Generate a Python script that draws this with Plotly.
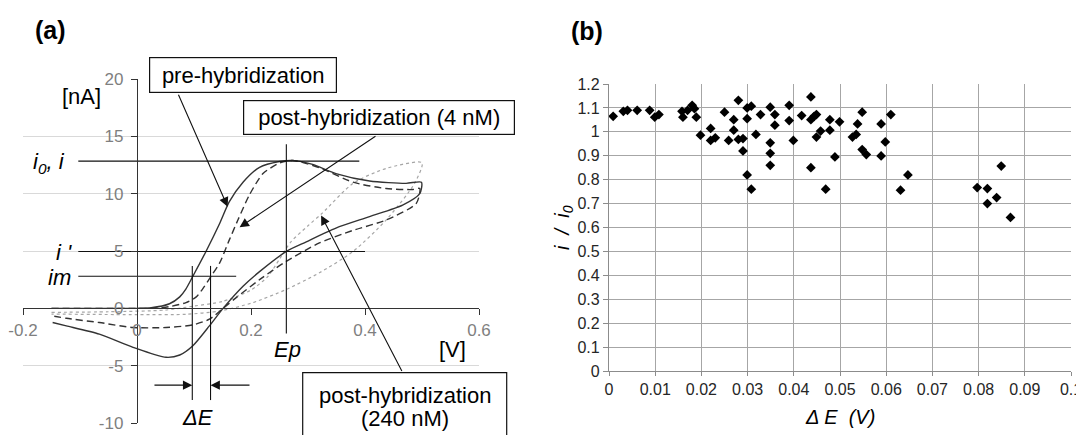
import plotly.graph_objects as go

FONT = "Liberation Sans, Arial, sans-serif"

# ---------------- Panel (a): cyclic voltammograms (V, nA) ----------------
pre_v = [-0.15, -0.10, -0.05, 0.00, 0.025, 0.057, 0.075, 0.086, 0.098, 0.121, 0.145, 0.162, 0.186, 0.215,
         0.25, 0.273, 0.308, 0.349, 0.408, 0.472, 0.499,
         0.496, 0.466, 0.408, 0.349, 0.297, 0.262, 0.215, 0.186, 0.151, 0.127, 0.098, 0.075, 0.051,
         -0.007, -0.066, -0.124, -0.148]
pre_i = [0, 0, 0, 0, 0.05, 0.4, 1.0, 1.7, 2.8, 4.96, 7.4, 9.3, 11.0, 12.3,
         12.8, 12.9, 12.55, 11.75, 11.1, 10.9, 11.0,
         10.0, 9.0, 8.0, 7.0, 5.8, 4.96, 3.2, 1.93, 0.0, -1.53, -3.26, -4.07, -4.27,
         -3.4, -2.25, -1.53, -1.24]

post4_v = [-0.15, -0.10, -0.05, 0.0, 0.03, 0.057, 0.086, 0.104, 0.118, 0.130, 0.145, 0.162, 0.177, 0.197,
           0.221, 0.25, 0.273, 0.32, 0.379, 0.437, 0.484, 0.496,
           0.49, 0.437, 0.379, 0.32, 0.262, 0.215, 0.174, 0.151, 0.127, 0.097, 0.051, -0.007,
           -0.066, -0.124, -0.148]
post4_i = [0, 0, 0, 0, 0, 0.15, 0.5, 1.0, 1.9, 2.8, 3.96, 5.97, 7.7, 9.87,
           11.75, 12.67, 12.9, 12.27, 11.0, 10.45, 10.36, 10.45,
           9.15, 7.7, 6.8, 5.7, 4.1, 2.5, 0.93, 0.0, -0.95, -1.45, -1.67, -1.67,
           -1.24, -0.87, -0.66]

post240_v = [-0.15, -0.05, 0.05, 0.10, 0.15, 0.20, 0.23, 0.25, 0.27, 0.30, 0.325, 0.379, 0.437, 0.50,
             0.487, 0.437, 0.379, 0.32, 0.262, 0.203, 0.145, 0.086, 0.0, -0.15]
post240_i = [-0.35, -0.3, -0.15, 0.2, 0.6, 1.6, 2.8, 4.3, 5.8, 7.2, 8.3, 10.9, 12.2, 12.7,
             10.9, 7.7, 4.96, 3.1, 1.65, 0.49, -0.23, -0.52, -0.55, -0.5]

# characteristic values marked on panel (a)
E_p = 0.262
i_0 = 12.84
i_prime = 4.96
i_m = 2.8
E_left = 0.097
E_right = 0.129

a_xticks = [-0.2, 0, 0.2, 0.4, 0.6]
a_xlabels = ["-0.2", "0", "0.2", "0.4", "0.6"]
a_yticks = [-10, -5, 0, 5, 10, 15, 20]
a_ylabels = ["-10", "-5", "0", "5", "10", "15", "20"]

# ---------------- Panel (b): i/i0 vs delta E ----------------
delta_E = [0.0009, 0.0031, 0.004, 0.0061, 0.0088, 0.0099, 0.0108, 0.0158, 0.016, 0.017, 0.018, 0.0185,
           0.0189, 0.0198, 0.022, 0.022, 0.023, 0.025, 0.0259, 0.027, 0.027, 0.028, 0.028, 0.029,
           0.029, 0.0299, 0.0299, 0.0308, 0.0299, 0.0308, 0.0318, 0.0328,
           0.0349, 0.0359, 0.0359, 0.0349, 0.0349, 0.0349, 0.039, 0.039, 0.0399, 0.0417, 0.0437,
           0.0437, 0.0444, 0.0449, 0.0437, 0.0458, 0.0449, 0.0478, 0.0478, 0.0469, 0.0489, 0.0499,
           0.0527, 0.0535, 0.0538, 0.0548, 0.0548, 0.0557, 0.0589, 0.0589, 0.0598, 0.061, 0.0647,
           0.0631,
           0.0849, 0.0797, 0.0819, 0.0839, 0.0819, 0.0869]
ratio = [1.065, 1.086, 1.09, 1.09, 1.09, 1.061, 1.072, 1.086, 1.061, 1.09, 1.111, 1.097,
         1.061, 0.986, 1.014, 0.964, 0.975, 1.082, 0.964, 1.051, 1.007, 1.132, 0.968, 0.972,
         0.92, 1.1, 1.055, 1.107, 0.82, 0.76, 0.989, 1.072,
         1.103, 1.072, 1.028, 0.954, 0.91, 0.86, 1.111, 1.047, 0.964, 1.068, 1.146,
         1.051, 1.065, 1.072, 0.85, 1.003, 0.978, 1.051, 1.007, 0.76, 0.895, 1.042,
         0.978, 0.989, 1.033, 1.082, 0.926, 0.905, 1.033, 0.899, 0.958, 1.072, 0.82,
         0.756,
         0.857, 0.767, 0.763, 0.725, 0.70, 0.642]

# The page body has an 8 px margin, so the figure is drawn 8 px smaller and
# page positions are converted to figure fractions with that offset.
OFF = 8
W, H = 1084 - OFF, 435 - OFF


def px(x):
    return (x - OFF) / W


def py(y):
    return 1 - (y - OFF) / H


fig = go.Figure()

# CV curves
fig.add_trace(go.Scatter(x=post240_v, y=post240_i, mode="lines", xaxis="x", yaxis="y",
                         line=dict(color="#a6a6a6", width=1.2, dash="dot", shape="spline", smoothing=0.7),
                         showlegend=False, hoverinfo="skip"))
fig.add_trace(go.Scatter(x=post4_v, y=post4_i, mode="lines", xaxis="x", yaxis="y",
                         line=dict(color="#333333", width=1.4, dash="7px,4px", shape="spline", smoothing=0.7),
                         showlegend=False, hoverinfo="skip"))
fig.add_trace(go.Scatter(x=pre_v, y=pre_i, mode="lines", xaxis="x", yaxis="y",
                         line=dict(color="#333333", width=1.4, shape="spline", smoothing=0.7),
                         showlegend=False, hoverinfo="skip"))

# guide lines
guide = dict(mode="lines", xaxis="x", yaxis="y", line=dict(color="#111111", width=1.1),
             showlegend=False, hoverinfo="skip")
fig.add_trace(go.Scatter(x=[-0.103, 0.39], y=[i_0, i_0], **guide))
fig.add_trace(go.Scatter(x=[-0.103, 0.40], y=[i_prime, i_prime], **guide))
fig.add_trace(go.Scatter(x=[-0.103, 0.174], y=[i_m, i_m], **guide))
fig.add_trace(go.Scatter(x=[E_p, E_p], y=[14.3, -2.2], **guide))
fig.add_trace(go.Scatter(x=[E_left, E_left], y=[3.7, -8.0], **guide))
fig.add_trace(go.Scatter(x=[E_right, E_right], y=[3.7, -8.0], **guide))

# panel (b) scatter
fig.add_trace(go.Scatter(x=delta_E, y=ratio, mode="markers", xaxis="x2", yaxis="y2",
                         marker=dict(symbol="diamond", size=7.5, color="black"),
                         showlegend=False, hoverinfo="skip"))

txt = dict(family=FONT, size=22, color="black")
ann = []


def arrow(x, y, ax, ay):
    ann.append(dict(x=x, y=y, ax=ax, ay=ay, xref="x", yref="y", axref="x", ayref="y", text="",
                    showarrow=True, arrowhead=2, arrowsize=1.7, arrowwidth=1.1, arrowcolor="#111111",
                    standoff=0, startstandoff=0))


def label(x, y, text, ref="x", font=None, xanchor="center", **kw):
    d = dict(x=x, y=y, text=text, showarrow=False, font=font or txt,
             xanchor=xanchor, yanchor="middle", **kw)
    if ref == "paper":
        d.update(xref="paper", yref="paper")
    else:
        d.update(xref="x", yref="y")
    ann.append(d)


arrow(0.159, 8.86, 0.0716, 18.75)
arrow(0.18, 7.07, 0.421, 15.1)
arrow(0.323, 8.1, 0.466, -5.6)
arrow(E_left, -6.7, 0.028, -6.7)
arrow(E_right, -6.7, 0.2, -6.7)

label(px(243), py(75), "pre-hybridization", ref="paper",
      bordercolor="#111111", borderwidth=1.2, borderpad=0, width=186, height=34, bgcolor="white")
label(px(379), py(117.5), "post-hybridization (4 nM)", ref="paper",
      bordercolor="#111111", borderwidth=1.2, borderpad=0, width=270, height=33, bgcolor="white")
label(px(404.7), py(395), "post-hybridization", ref="paper")
label(px(404.7), py(418), "(240 nM)", ref="paper")

label(-0.097, 18.43, "[nA]")
label(-0.122, 12.67, "<i>i<sub>0</sub>, i</i>", xanchor="right")
label(-0.11, 4.9, "<i>i '</i>", xanchor="right")
label(-0.113, 2.73, "<i>im</i>", xanchor="right")
label(0.264, -3.63, "<i>Ep</i>")
label(0.106, -9.56, "<i>\u0394E</i>")
label(0.553, -3.63, "[V]")

bold = dict(family=FONT, size=25, color="black")
label(px(50), py(30), "<b>(a)</b>", ref="paper", font=bold)
label(px(587), py(31), "<b>(b)</b>", ref="paper", font=bold)

ttl = dict(family=FONT, size=20, color="black")
label(px(840), py(417), "<i>\u0394 E\u00a0\u00a0(V)</i>", ref="paper", font=ttl)
label(px(563), py(228), "<i>i\u00a0\u00a0/\u00a0\u00a0i<sub>0</sub></i>", ref="paper", font=ttl, textangle=-90)

shapes = [dict(type="rect", xref="paper", yref="paper", x0=px(302.7), x1=px(506.7), y0=-0.05, y1=py(372.7),
               line=dict(color="#111111", width=1.2), fillcolor="rgba(0,0,0,0)")]

xa_dom = [px(23), px(479)]
ya_dom = [py(423), py(79)]
y0_paper = ya_dom[0] + (0 - (-10)) / 30 * (ya_dom[1] - ya_dom[0])
x0_paper = xa_dom[0] + (0 - (-0.2)) / 0.8 * (xa_dom[1] - xa_dom[0])

fig.update_layout(
    width=W, height=H, margin=dict(l=0, r=0, t=0, b=0, pad=0, autoexpand=False), autosize=False,
    paper_bgcolor="white", plot_bgcolor="white",
    font=dict(family=FONT),
    xaxis=dict(domain=xa_dom, range=[-0.2, 0.6], anchor="free", position=y0_paper, automargin=False,
               showline=True, linecolor="#333333", linewidth=1.3, ticks="outside", ticklen=6,
               tickcolor="#333333", tickwidth=1.2, ticklabeloverflow="allow",
               tickvals=a_xticks, ticktext=a_xlabels, tickfont=dict(size=17, color="#7f7f7f"),
               showgrid=False, zeroline=False),
    yaxis=dict(domain=ya_dom, range=[-10, 20], anchor="free", position=x0_paper, automargin=False,
               showline=True, linecolor="#333333", linewidth=1.3, ticks="outside", ticklen=6,
               tickcolor="#333333", tickwidth=1.2, ticklabelstandoff=4, ticklabeloverflow="allow",
               tickvals=a_yticks, ticktext=a_ylabels, tickfont=dict(size=17, color="#7f7f7f"),
               showgrid=True, gridcolor="#d9d9d9", gridwidth=1, zeroline=False),
    xaxis2=dict(domain=[px(609), px(1071)], range=[0, 0.1], anchor="y2", dtick=0.01, tick0=0,
                automargin=False, ticklabeloverflow="allow",
                showline=True, linecolor="#8c8c8c", linewidth=1.3, ticks="outside", ticklen=4,
                tickcolor="#8c8c8c", tickfont=dict(size=16, color="#262626"),
                showgrid=True, gridcolor="#a6a6a6", gridwidth=1.3, zeroline=False),
    yaxis2=dict(domain=[py(371), py(84)], range=[0, 1.2], anchor="x2", dtick=0.1, tick0=0,
                automargin=False, ticklabeloverflow="allow",
                showline=True, linecolor="#8c8c8c", linewidth=1.3, ticks="outside", ticklen=5,
                tickcolor="#8c8c8c", tickfont=dict(size=16, color="#262626"),
                showgrid=True, gridcolor="#a6a6a6", gridwidth=1.3, zeroline=False),
    annotations=ann, shapes=shapes,
)

fig.write_html("out.html")
